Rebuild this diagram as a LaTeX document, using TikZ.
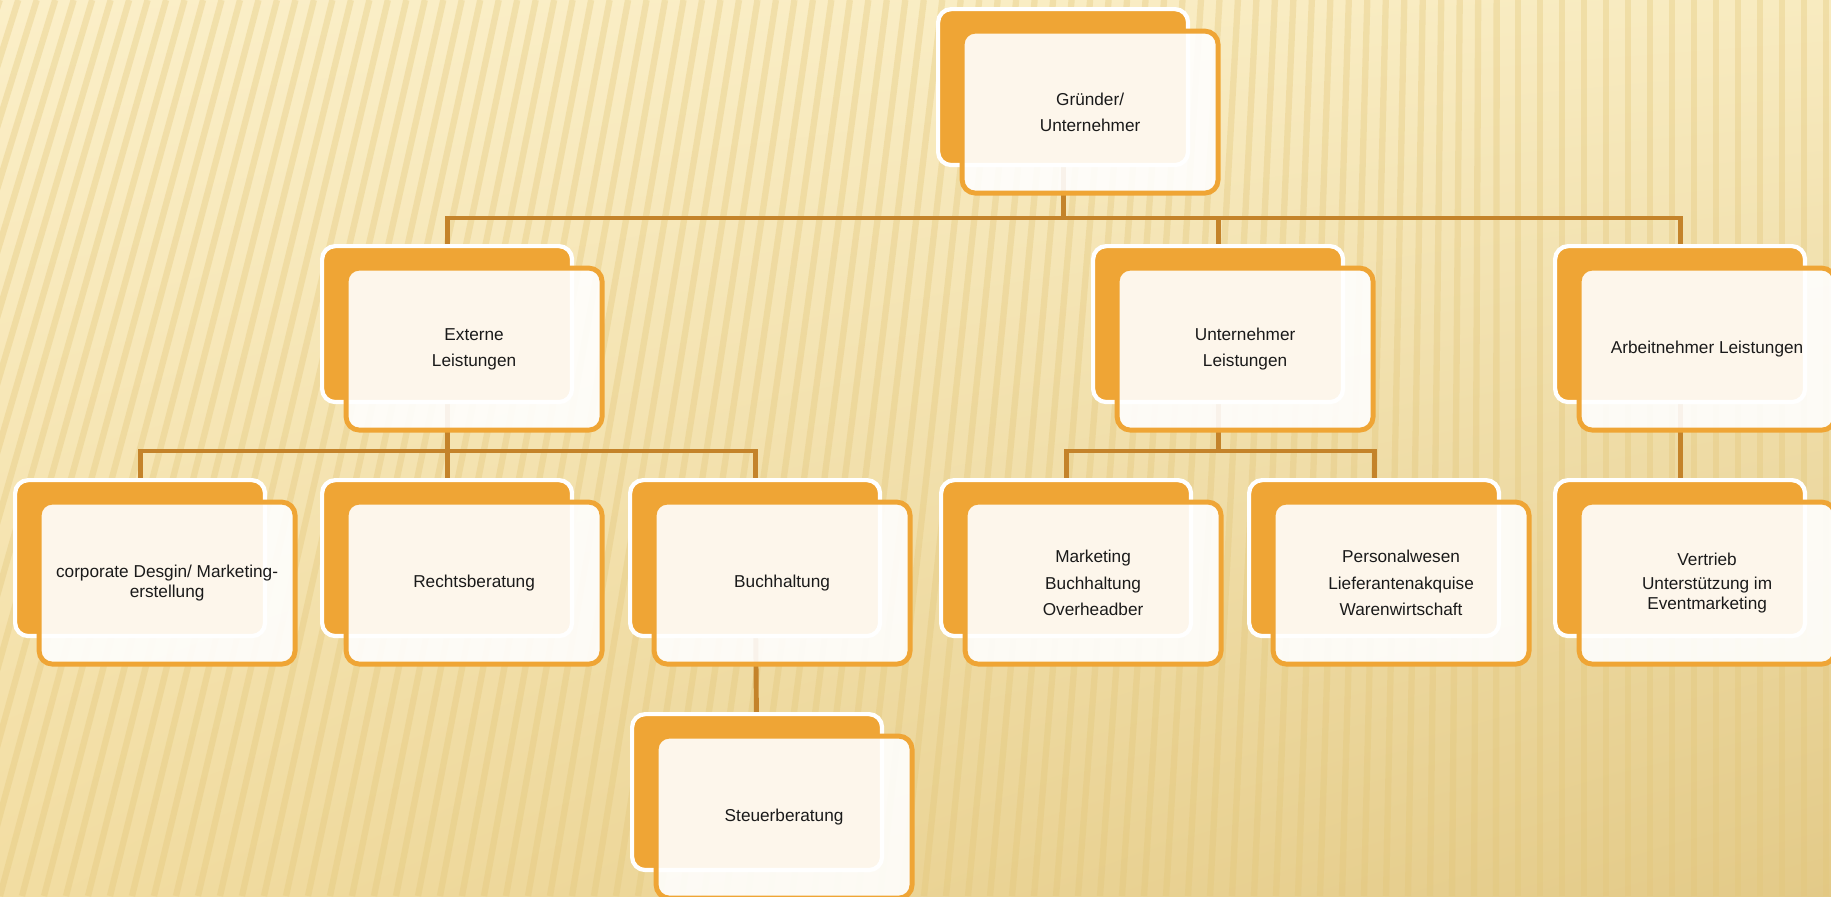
\documentclass[tikz,border=0pt]{standalone}
\usepackage{fontspec}
\setmainfont{Liberation Sans}
\usepackage{tikz}
\usetikzlibrary{positioning, calc, backgrounds, shadings}
\definecolor{CardOrange}{HTML}{EFA535}
\definecolor{LinkBrown}{HTML}{C4832A}
\definecolor{TextBlack}{HTML}{1A1A1A}
\definecolor{StripeTan}{HTML}{E3C678}
\definecolor{BgA}{HTML}{FBEFC8}
\definecolor{BgB}{HTML}{F8EBC0}
\definecolor{BgC}{HTML}{F2DDA2}
\definecolor{BgD}{HTML}{E3CA88}
\tikzset{
  backcard/.style={rectangle, rounded corners=7.5pt, draw=white, line width=2.4pt, fill=CardOrange, minimum width=5cm, minimum height=3.12cm, anchor=north west, inner sep=0pt},
  frontcard/.style={rectangle, rounded corners=7.5pt, draw=CardOrange, line width=2.8pt, fill=white, fill opacity=0.9, text opacity=1, minimum width=5.12cm, minimum height=3.24cm, text=TextBlack, font=\fontsize{9.8}{15}\selectfont, align=center},
  link/.style={line width=2.8pt, LinkBrown},
  stripe/.style={line width=3.6pt, StripeTan, opacity=0.35}
}

\begin{document}
\begin{tikzpicture}[x=0.02cm, y=-0.02cm]
  \useasboundingbox (0,0) rectangle (1831,896);

  \node[backcard] (grb) at (936,7) {};
  \node[frontcard] (gr) at ($(grb.center)+(27,25)$) {Gründer/\\Unternehmer};

  \node[backcard] (extb) at (320,244) {};
  \node[frontcard] (ext) at ($(extb.center)+(27,25)$) {Externe\\Leistungen};
  \node[backcard] (unb) at (1091,244) {};
  \node[frontcard] (un) at ($(unb.center)+(27,25)$) {Unternehmer\\Leistungen};
  \node[backcard] (arbb) at (1553,244) {};
  \node[frontcard] (arb) at ($(arbb.center)+(27,25)$) {Arbeitnehmer Leistungen};

  \node[backcard] (corpb) at (13,478) {};
  \node[frontcard] (corp) at ($(corpb.center)+(27,25)$) {corporate Desgin/ Marketing-\\[-3.5pt]erstellung};
  \node[backcard] (rechtb) at (320,478) {};
  \node[frontcard] (recht) at ($(rechtb.center)+(27,25)$) {Rechtsberatung};
  \node[backcard] (buchb) at (628,478) {};
  \node[frontcard] (buch) at ($(buchb.center)+(27,25)$) {Buchhaltung};
  \node[backcard] (markb) at (939,478) {};
  \node[frontcard] (mark) at ($(markb.center)+(27,25)$) {Marketing\\Buchhaltung\\Overheadber};
  \node[backcard] (persb) at (1247,478) {};
  \node[frontcard] (pers) at ($(persb.center)+(27,25)$) {Personalwesen\\Lieferantenakquise\\Warenwirtschaft};
  \node[backcard] (vertb) at (1553,478) {};
  \node[frontcard] (vert) at ($(vertb.center)+(27,25)$) {Vertrieb\\[-1.5pt]Unterstützung im\\[-3.5pt]Eventmarketing};

  \node[backcard] (steub) at (630,712) {};
  \node[frontcard] (steu) at ($(steub.center)+(27,25)$) {Steuerberatung};

  \begin{scope}[on background layer]
    \shade[upper left=BgA, upper right=BgB, lower left=BgC, lower right=BgD] (0,0) rectangle (1831,896);
    \foreach \x in {-330,-308,...,1831} {
      \pgfmathsetmacro\s{max(0,240*(1-\x/1500))}
      \draw[stripe] (\x,896) -- (\x+\s,0);
    }
    \coordinate (bus0) at (0,218);
    \coordinate (bus1) at (0,451);
    \foreach \c in {extb,unb,arbb}
      \draw[link] (grb.center) |- (\c.center |- bus0) -- (\c.center);
    \foreach \c in {corpb,rechtb,buchb}
      \draw[link] (extb.center) |- (\c.center |- bus1) -- (\c.center);
    \foreach \c in {markb,persb}
      \draw[link] (unb.center) |- (\c.center |- bus1) -- (\c.center);
    \draw[link] (arbb.center) -- (vertb.center);
    \draw[link] (buchb.center) -- (steub.center);
  \end{scope}
\end{tikzpicture}
\end{document}
